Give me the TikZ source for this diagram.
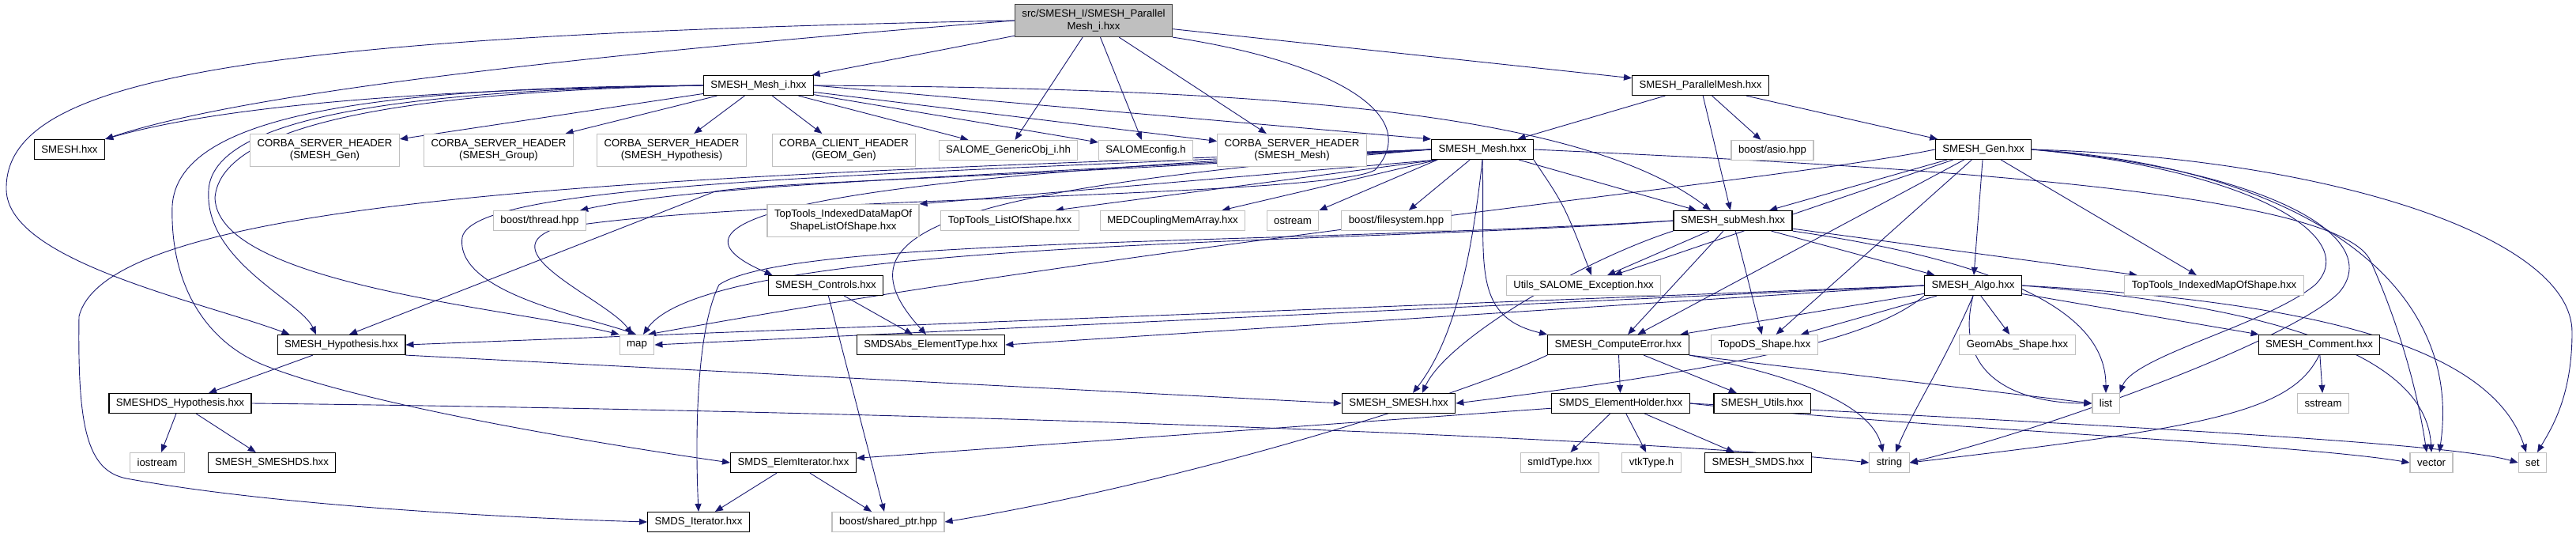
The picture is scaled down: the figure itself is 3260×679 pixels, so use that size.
\documentclass[tikz,border=0pt]{standalone}
\usepackage{fontspec}
\setmainfont{Liberation Sans}
\usetikzlibrary{arrows.meta, backgrounds}
\definecolor{DoxEdge}{RGB}{25,25,112}
\definecolor{DoxGrey}{RGB}{191,191,191}
\newcommand{\doxfont}{\fontsize{13.2}{15.5}\selectfont}

\begin{document}
\begin{tikzpicture}[x=1pt, y=-1pt,
    hdr/.style={draw=black, line width=1.2pt, fill=white, font=\doxfont, inner xsep=9pt, inner ysep=0pt, minimum height=25pt},
    sys/.style={hdr, draw=DoxGrey},
    two/.style={align=center, minimum height=41pt},
    dep/.style={draw=DoxEdge, line width=0.9pt, -{Triangle[length=10pt, width=8pt]}}]

    \useasboundingbox (0,0) rectangle (3260,679);

    % Root file
    \node[hdr, two, fill=DoxGrey, draw=black!75] (top) at (1384,26) {src/SMESH\_I/SMESH\_Parallel\\Mesh\_i.hxx};

    % First level
    \node[hdr] (meshi) at (960,108) {SMESH\_Mesh\_i.hxx};
    \node[hdr] (pmesh) at (2152,108) {SMESH\_ParallelMesh.hxx};

    % Second level
    \node[hdr] (smesh) at (88,189) {SMESH.hxx};
    \node[sys, two] (cgen) at (411,190) {CORBA\_SERVER\_HEADER\\(SMESH\_Gen)};
    \node[sys, two] (cgroup) at (631,190) {CORBA\_SERVER\_HEADER\\(SMESH\_Group)};
    \node[sys, two] (chyp) at (850,190) {CORBA\_SERVER\_HEADER\\(SMESH\_Hypothesis)};
    \node[sys, two] (cgeom) at (1068,190) {CORBA\_CLIENT\_HEADER\\(GEOM\_Gen)};
    \node[sys] (gobj) at (1276,190) {SALOME\_GenericObj\_i.hh};
    \node[sys] (sconf) at (1450,190) {SALOMEconfig.h};
    \node[sys, two] (cmesh) at (1635,190) {CORBA\_SERVER\_HEADER\\(SMESH\_Mesh)};
    \node[hdr] (mesh) at (1876,189) {SMESH\_Mesh.hxx};
    \node[sys] (asio) at (2243,190) {boost/asio.hpp};
    \node[hdr] (gen) at (2510,189) {SMESH\_Gen.hxx};

    % Third level
    \node[sys] (thread) at (683,279) {boost/thread.hpp};
    \node[sys, two] (tdmap) at (1067,279) {TopTools\_IndexedDataMapOf\\ShapeListOfShape.hxx};
    \node[sys] (tlist) at (1278,279) {TopTools\_ListOfShape.hxx};
    \node[sys] (medc) at (1484,279) {MEDCouplingMemArray.hxx};
    \node[sys] (ostream) at (1636,279) {ostream};
    \node[sys] (bfs) at (1767,279) {boost/filesystem.hpp};
    \node[hdr] (submesh) at (2193,279) {SMESH\_subMesh.hxx};

    % Fourth level
    \node[hdr] (controls) at (1045,361) {SMESH\_Controls.hxx};
    \node[sys] (except) at (2004,361) {Utils\_SALOME\_Exception.hxx};
    \node[hdr] (algo) at (2497,361) {SMESH\_Algo.hxx};
    \node[sys] (timap) at (2802,361) {TopTools\_IndexedMapOfShape.hxx};

    % Fifth level
    \node[hdr] (hyp) at (432,436) {SMESH\_Hypothesis.hxx};
    \node[sys] (map) at (806,436) {map};
    \node[hdr] (eltype) at (1178,436) {SMDSAbs\_ElementType.hxx};
    \node[hdr] (comperr) at (2048,436) {SMESH\_ComputeError.hxx};
    \node[sys] (topods) at (2233,436) {TopoDS\_Shape.hxx};
    \node[sys] (geomabs) at (2553,436) {GeomAbs\_Shape.hxx};
    \node[hdr] (comment) at (2935,436) {SMESH\_Comment.hxx};

    % Sixth level
    \node[hdr] (dshyp) at (228,510) {SMESHDS\_Hypothesis.hxx};
    \node[hdr] (smeshsmesh) at (1770,510) {SMESH\_SMESH.hxx};
    \node[hdr] (holder) at (2051,510) {SMDS\_ElementHolder.hxx};
    \node[hdr] (utils) at (2230,510) {SMESH\_Utils.hxx};
    \node[sys] (list) at (2665,510) {list};
    \node[sys] (sstream) at (2940,510) {sstream};

    % Seventh level
    \node[sys] (iostream) at (199,585) {iostream};
    \node[hdr] (smeshds) at (344,585) {SMESH\_SMESHDS.hxx};
    \node[hdr] (elemit) at (1004,585) {SMDS\_ElemIterator.hxx};
    \node[sys] (smidtype) at (1974,585) {smIdType.hxx};
    \node[sys] (vtktype) at (2090,585) {vtkType.h};
    \node[hdr] (smds) at (2225,585) {SMESH\_SMDS.hxx};
    \node[sys] (string) at (2391,585) {string};
    \node[sys] (vector) at (3077,585) {vector};
    \node[sys] (set) at (3205,585) {set};

    % Last level
    \node[hdr] (iter) at (884,660) {SMDS\_Iterator.hxx};
    \node[sys] (sptr) at (1124,660) {boost/shared\_ptr.hpp};

    \begin{pgfonlayer}{background}
    % Root includes
    \draw[dep] (top) -- (meshi);
    \draw[dep] (top) -- (pmesh);
    \draw[dep] (top) -- (gobj);
    \draw[dep] (top) -- (sconf);
    \draw[dep] (top) -- (cmesh);
    \draw[dep] (top.west) .. controls (700,72) and (300,120) .. (smesh.north east);
    \draw[dep] (top.west) .. controls (300,45) and (5,100) .. (8,240) .. controls (10,330) and (250,380) .. ([xshift=16]hyp.north west);
    \draw[dep] (top.south east) .. controls (1700,80) and (1800,150) .. (1740,215) .. controls (1680,250) and (900,250) .. (700,290) .. controls (620,320) and (770,380) .. ([xshift=-6]map.north);

    % SMESH_Mesh_i.hxx
    \draw[dep] (meshi.west) .. controls (600,112) and (300,128) .. (smesh.north east);
    \draw[dep] (meshi) -- (cgen);
    \draw[dep] (meshi) -- (cgroup);
    \draw[dep] (meshi) -- (chyp);
    \draw[dep] (meshi) -- (cgeom);
    \draw[dep] (meshi) -- (gobj);
    \draw[dep] (meshi) -- (sconf);
    \draw[dep] (meshi) -- (cmesh);
    \draw[dep] (meshi.east) -- (mesh.north west);
    \draw[dep] (meshi.east) .. controls (1600,112) and (2000,140) .. ([xshift=-28]submesh.north);
    \draw[dep] (meshi.west) .. controls (500,114) and (270,150) .. (264,240) .. controls (258,330) and (380,380) .. ([xshift=-32]hyp.north);
    \draw[dep] (meshi.west) .. controls (520,116) and (280,155) .. (272,250) .. controls (275,360) and (650,390) .. (map.north west);
    \draw[dep] (meshi.west) .. controls (450,110) and (225,150) .. (218,260) .. controls (215,360) and (260,430) .. (330,460) .. controls (450,510) and (750,560) .. (elemit.west);

    % SMESH_ParallelMesh.hxx
    \draw[dep] (pmesh) -- (mesh);
    \draw[dep] (pmesh) -- (submesh);
    \draw[dep] (pmesh) -- (asio);
    \draw[dep] (pmesh) -- (gen);

    % SMESH_Mesh.hxx
    \draw[dep] (mesh) -- (bfs);
    \draw[dep] (mesh) -- (submesh);
    \draw[dep] ([xshift=8]mesh.south west) -- (tdmap.north east);
    \draw[dep] ([xshift=8]mesh.south west) -- ([xshift=-30]tlist.north east);
    \draw[dep] ([xshift=8]mesh.south west) -- ([xshift=-30]medc.north east);
    \draw[dep] ([xshift=8]mesh.south west) -- (ostream.north east);
    \draw[dep] (mesh.west) .. controls (1300,222) and (900,230) .. ([xshift=-8]thread.north east);
    \draw[dep] (mesh.west) .. controls (1300,225) and (1000,228) .. (905,242) -- ([xshift=10]hyp.north);
    \draw[dep] (mesh.west) .. controls (1100,222) and (600,230) .. (585,300) .. controls (575,370) and (740,400) .. ([xshift=-1]map.north);
    \draw[dep] (mesh.west) .. controls (1000,226) and (820,280) .. ([xshift=6]controls.north west);
    \draw[dep] (mesh.west) .. controls (1200,240) and (1050,290) .. ([xshift=-6]eltype.north);
    \draw[dep] (mesh.west) .. controls (900,222) and (140,240) .. (100,400) .. controls (98,540) and (110,595) .. (160,605) .. controls (350,640) and (650,655) .. (iter.west);
    \draw[dep] (mesh.south) .. controls (1862,330) and (1840,430) .. ([xshift=18]smeshsmesh.north);
    \draw[dep] (mesh.south) .. controls (1880,330) and (1860,400) .. (comperr.north west);
    \draw[dep] (mesh.south east) .. controls (1980,260) .. ([xshift=10]except.north);
    \draw[dep] (mesh.east) .. controls (2400,210) and (2960,240) .. (3000,330) .. controls (3040,420) and (3060,500) .. ([xshift=-6]vector.north);

    % SMESH_subMesh.hxx
    \draw[dep] (submesh) -- (except);
    \draw[dep] (submesh) -- (comperr);
    \draw[dep] (submesh) -- (topods);
    \draw[dep] (submesh) -- (algo);
    \draw[dep] (submesh) -- (timap);
    \draw[dep] (submesh.south east) .. controls (2600,340) and (2665,420) .. (list.north);
    \draw[dep] (submesh.west) .. controls (1700,310) and (900,300) .. ([xshift=8]map.north);
    \draw[dep] (submesh.west) .. controls (1600,310) and (1000,300) .. (910,360) .. controls (880,420) and (880,560) .. (iter.north);
    \draw[dep] (submesh.south west) .. controls (2000,330) and (1830,430) .. ([xshift=30]smeshsmesh.north);

    % SMESH_Gen.hxx
    \draw[dep] (gen) -- (submesh);
    \draw[dep] (gen) -- (except);
    \draw[dep] (gen) -- (comperr);
    \draw[dep] (gen) -- (topods);
    \draw[dep] (gen) -- (algo);
    \draw[dep] (gen) -- (timap);
    \draw[dep] (gen.west) .. controls (2250,230) and (1500,300) .. ([xshift=14]map.north);
    \draw[dep] (gen.east) .. controls (2950,200) and (3255,300) .. (3255,420) .. controls (3255,500) and (3230,540) .. ([xshift=6]set.north);
    \draw[dep] (gen.east) .. controls (2900,210) and (3120,350) .. ([xshift=10]vector.north);
    \draw[dep] (gen.east) .. controls (2870,215) and (3020,300) .. (2960,370) .. controls (2900,430) and (2600,540) .. (string.east);
    \draw[dep] (gen.east) .. controls (2850,215) and (2990,300) .. (2930,360) .. controls (2870,410) and (2700,450) .. (list.north east);

    % SMESH_Algo.hxx
    \draw[dep] (algo.west) -- (map.east);
    \draw[dep] (algo.west) -- (hyp.east);
    \draw[dep] (algo.west) -- (eltype.east);
    \draw[dep] (algo.south west) .. controls (2380,420) and (2250,460) .. (smeshsmesh.east);
    \draw[dep] (algo) -- (comperr);
    \draw[dep] (algo) -- (topods);
    \draw[dep] (algo) -- (geomabs);
    \draw[dep] (algo) -- (comment);
    \draw[dep] (algo.south) .. controls (2460,460) and (2420,520) .. ([xshift=8]string.north);
    \draw[dep] (algo.south) .. controls (2470,480) and (2560,510) .. (list.west);
    \draw[dep] (algo.east) .. controls (2900,380) and (3150,430) .. ([xshift=-8]set.north);
    \draw[dep] (algo.east) .. controls (2850,385) and (3070,440) .. (vector.north);

    % SMESH_Comment.hxx
    \draw[dep] (comment) -- (sstream);
    \draw[dep] (comment.south) .. controls (2900,520) and (2800,540) .. (string.east);

    % SMESH_ComputeError.hxx
    \draw[dep] (comperr) -- (holder);
    \draw[dep] (comperr) -- (utils);
    \draw[dep] (comperr.south east) -- (list.west);
    \draw[dep] (comperr.south east) .. controls (2300,480) and (2370,520) .. ([xshift=-8]string.north);
    \draw[dep] (comperr.south west) .. controls (1850,500) and (1500,610) .. (sptr.east);

    % SMDS_ElementHolder.hxx
    \draw[dep] (holder) -- (elemit);
    \draw[dep] (holder) -- (smidtype);
    \draw[dep] (holder) -- (vtktype);
    \draw[dep] (holder) -- (smds);
    \draw[dep] (holder.east) .. controls (2400,540) and (2900,560) .. (vector.west);
    \draw[dep] (holder.east) .. controls (2700,540) and (3100,560) .. (set.west);

    % SMESH_Hypothesis.hxx and below
    \draw[dep] (hyp) -- (dshyp);
    \draw[dep] (hyp.south east) -- (smeshsmesh.west);
    \draw[dep] (dshyp) -- (iostream);
    \draw[dep] (dshyp) -- (smeshds);
    \draw[dep] (dshyp.east) .. controls (1200,520) and (2100,555) .. (string.west);

    % iterators and controls
    \draw[dep] (elemit) -- (iter);
    \draw[dep] (elemit) -- (sptr);
    \draw[dep] (controls) -- (eltype);
    \draw[dep] (controls) -- ([xshift=-5]sptr.north);
    \end{pgfonlayer}
\end{tikzpicture}
\end{document}
